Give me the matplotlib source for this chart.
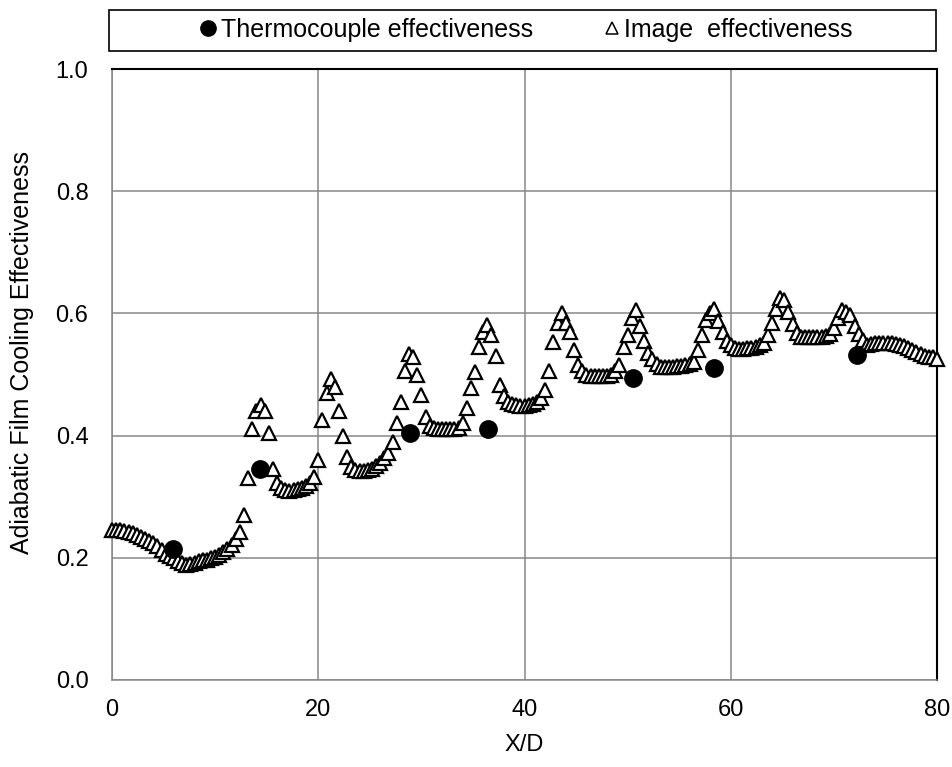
import numpy as np
import matplotlib
matplotlib.use('Agg')
from matplotlib import pyplot as plt
from matplotlib.lines import Line2D
from matplotlib.patches import Rectangle

plt.rcParams['font.family'] = ['Liberation Sans', 'DejaVu Sans']

# thermocouple points
tc_x = [5.9, 14.35, 28.9, 36.5, 50.55, 58.4, 72.2]
tc_y = [0.215, 0.345, 0.405, 0.41, 0.495, 0.51, 0.532]

# image effectiveness
img_x = [0.0, 0.4, 0.8, 1.2, 1.6, 2.0, 2.4, 2.8, 3.2, 3.6,
         4.0, 4.4, 4.8, 5.2, 5.6, 6.0, 6.4, 6.8, 7.2, 7.6,
         8.0, 8.4, 8.8, 9.2, 9.6, 10.0, 10.4, 10.8, 11.2, 11.6,
         12.0, 12.4, 12.8, 13.2, 13.6, 14.0, 14.4, 14.8, 15.2, 15.6,
         16.0, 16.4, 16.8, 17.2, 17.6, 18.0, 18.4, 18.8, 19.2, 19.6,
         20.0, 20.4, 20.8, 21.2, 21.6, 22.0, 22.4, 22.8, 23.2, 23.6,
         24.0, 24.4, 24.8, 25.2, 25.6, 26.0, 26.4, 26.8, 27.2, 27.6,
         28.0, 28.4, 28.8, 29.2, 29.6, 30.0, 30.4, 30.8, 31.2, 31.6,
         32.0, 32.4, 32.8, 33.2, 33.6, 34.0, 34.4, 34.8, 35.2, 35.6,
         36.0, 36.4, 36.8, 37.2, 37.6, 38.0, 38.4, 38.8, 39.2, 39.6,
         40.0, 40.4, 40.8, 41.2, 41.6, 42.0, 42.4, 42.8, 43.2, 43.6,
         44.0, 44.4, 44.8, 45.2, 45.6, 46.0, 46.4, 46.8, 47.2, 47.6,
         48.0, 48.4, 48.8, 49.2, 49.6, 50.0, 50.4, 50.8, 51.2, 51.6,
         52.0, 52.4, 52.8, 53.2, 53.6, 54.0, 54.4, 54.8, 55.2, 55.6,
         56.0, 56.4, 56.8, 57.2, 57.6, 58.0, 58.4, 58.8, 59.2, 59.6,
         60.0, 60.4, 60.8, 61.2, 61.6, 62.0, 62.4, 62.8, 63.2, 63.6,
         64.0, 64.4, 64.8, 65.2, 65.6, 66.0, 66.4, 66.8, 67.2, 67.6,
         68.0, 68.4, 68.8, 69.2, 69.6, 70.0, 70.4, 70.8, 71.2, 71.6,
         72.0, 72.4, 72.8, 73.2, 73.6, 74.0, 74.4, 74.8, 75.2, 75.6,
         76.0, 76.4, 76.8, 77.2, 77.6, 78.0, 78.4, 78.8, 79.2, 79.6,
         80.0]
img_y = [0.245, 0.246, 0.245, 0.244, 0.243, 0.241, 0.238, 0.234, 0.230, 0.227,
         0.224, 0.219, 0.213, 0.207, 0.203, 0.199, 0.195, 0.191, 0.189, 0.190,
         0.192, 0.194, 0.196, 0.197, 0.199, 0.202, 0.205, 0.209, 0.214, 0.221,
         0.230, 0.242, 0.270, 0.330, 0.410, 0.440, 0.450, 0.440, 0.404, 0.345,
         0.322, 0.315, 0.311, 0.310, 0.311, 0.312, 0.314, 0.318, 0.323, 0.333,
         0.360, 0.425, 0.470, 0.492, 0.480, 0.440, 0.400, 0.365, 0.348, 0.344,
         0.342, 0.342, 0.344, 0.346, 0.350, 0.355, 0.364, 0.372, 0.390, 0.420,
         0.455, 0.505, 0.533, 0.528, 0.500, 0.466, 0.430, 0.416, 0.412, 0.410,
         0.410, 0.410, 0.410, 0.411, 0.413, 0.420, 0.445, 0.478, 0.504, 0.545,
         0.570, 0.581, 0.565, 0.530, 0.482, 0.465, 0.455, 0.451, 0.450, 0.449,
         0.449, 0.450, 0.452, 0.455, 0.462, 0.475, 0.505, 0.553, 0.585, 0.600,
         0.585, 0.570, 0.540, 0.516, 0.505, 0.500, 0.498, 0.497, 0.497, 0.497,
         0.498, 0.500, 0.505, 0.515, 0.545, 0.565, 0.592, 0.605, 0.580, 0.555,
         0.535, 0.526, 0.518, 0.513, 0.513, 0.513, 0.513, 0.514, 0.514, 0.515,
         0.517, 0.520, 0.540, 0.565, 0.590, 0.600, 0.607, 0.588, 0.570, 0.555,
         0.548, 0.544, 0.542, 0.542, 0.543, 0.544, 0.545, 0.548, 0.552, 0.565,
         0.585, 0.607, 0.625, 0.622, 0.603, 0.583, 0.568, 0.562, 0.562, 0.561,
         0.561, 0.561, 0.562, 0.563, 0.566, 0.576, 0.592, 0.605, 0.603, 0.598,
         0.580, 0.566, 0.556, 0.548, 0.550, 0.551, 0.551, 0.551, 0.551, 0.551,
         0.550, 0.549, 0.547, 0.544, 0.540, 0.537, 0.534, 0.531, 0.529, 0.528,
         0.526]

xticks = [0, 20, 40, 60, 80]
yticks = [0.0, 0.2, 0.4, 0.6, 0.8, 1.0]

W, H = 953, 767
fig = plt.figure(figsize=(W / 100, H / 100), dpi=100)
ax = fig.add_axes([112 / W, 1 - 680 / H, 825 / W, 611 / H])

ax.plot(img_x, img_y, ls='None', marker='^', ms=9.5, mfc='white', mec='black',
        mew=1.6, clip_on=False, zorder=3)
ax.plot(tc_x, tc_y, ls='None', marker='o', ms=12.5, color='black',
        clip_on=False, zorder=4)

ax.set_xlim(0, 80)
ax.set_ylim(0, 1.0)
ax.set_xticks(xticks)
ax.set_yticks(yticks)
ax.set_yticklabels(['%.1f' % v for v in yticks])
ax.tick_params(axis='both', length=0, labelsize=17)
ax.tick_params(axis='y', pad=17)
ax.tick_params(axis='x', pad=14)
ax.grid(True, color='#878787', lw=1.1)
ax.set_axisbelow(True)

ax.spines['left'].set_color('#878787')
ax.spines['bottom'].set_color('#878787')
ax.spines['left'].set_linewidth(1.1)
ax.spines['bottom'].set_linewidth(1.1)
ax.spines['top'].set_color('black')
ax.spines['right'].set_color('black')
ax.spines['top'].set_linewidth(1.5)
ax.spines['right'].set_linewidth(1.5)

fig.text(22 / W, 1 - 353 / H, 'Adiabatic Film Cooling Effectiveness',
         rotation=90, ha='center', va='center', fontsize=18)
fig.text(524 / W, 1 - 745 / H, 'X/D', ha='center', va='center', fontsize=17)

# legend box
box = Rectangle((109 / W, 1 - 51 / H), 827 / W, 41 / H, transform=fig.transFigure,
                fill=False, ec='black', lw=1.2)
fig.patches.append(box)

handles = [Line2D([], [], ls='None', marker='o', ms=11, color='black'),
           Line2D([], [], ls='None', marker='^', ms=8.5, mfc='white', mec='black', mew=1.1)]
fig.legend(handles, ['Thermocouple effectiveness', 'Image  effectiveness'],
           loc='center', bbox_to_anchor=(526 / W, 1 - 30 / H), ncol=2,
           frameon=False, fontsize=18, handlelength=0.7, handletextpad=0.15,
           columnspacing=2.8, borderpad=0)

fig.savefig('out.png', dpi=100)
